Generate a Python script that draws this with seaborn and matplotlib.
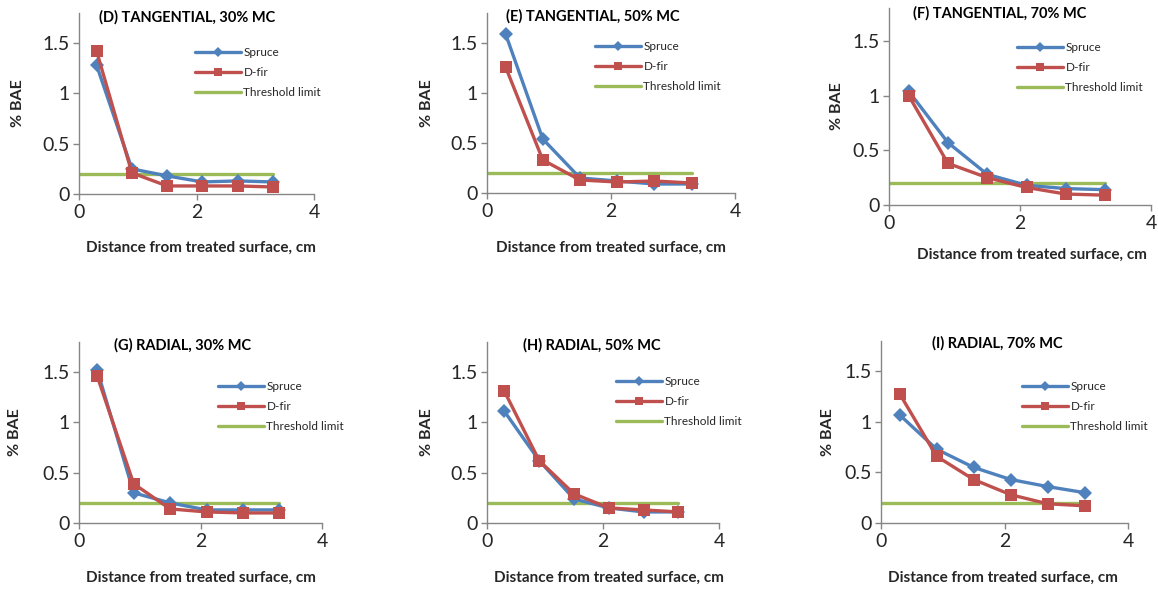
import matplotlib
matplotlib.use('Agg')
import matplotlib.pyplot as plt
import seaborn as sns
import pandas as pd

# data
distance = [0.3, 0.9, 1.5, 2.1, 2.7, 3.3]
threshold_x = [0, 3.3]
threshold_y = [0.2, 0.2]

titles = ['(D) TANGENTIAL, 30% MC', '(E) TANGENTIAL, 50% MC', '(F) TANGENTIAL, 70% MC',
          '(G) RADIAL, 30% MC', '(H) RADIAL, 50% MC', '(I) RADIAL, 70% MC']

spruce_d = [1.28, 0.25, 0.18, 0.12, 0.13, 0.12]
dfir_d = [1.42, 0.21, 0.08, 0.08, 0.08, 0.07]
spruce_e = [1.59, 0.54, 0.15, 0.12, 0.09, 0.09]
dfir_e = [1.26, 0.33, 0.13, 0.11, 0.12, 0.10]
spruce_f = [1.04, 0.57, 0.28, 0.18, 0.15, 0.14]
dfir_f = [1.00, 0.38, 0.25, 0.16, 0.10, 0.09]
spruce_g = [1.52, 0.30, 0.20, 0.13, 0.13, 0.13]
dfir_g = [1.46, 0.39, 0.14, 0.11, 0.10, 0.10]
spruce_h = [1.11, 0.62, 0.24, 0.15, 0.11, 0.11]
dfir_h = [1.31, 0.62, 0.29, 0.15, 0.13, 0.11]
spruce_i = [1.07, 0.73, 0.55, 0.43, 0.36, 0.30]
dfir_i = [1.28, 0.66, 0.43, 0.28, 0.19, 0.17]

spruce_all = [spruce_d, spruce_e, spruce_f, spruce_g, spruce_h, spruce_i]
dfir_all = [dfir_d, dfir_e, dfir_f, dfir_g, dfir_h, dfir_i]

# layout in pixels (Excel panels are not on a clean grid)
W, H = 1158, 590
axes_px = [(79, 314, 13, 194), (487, 735, 13, 193), (889, 1151, 8, 205),
           (79, 322, 342, 523), (487, 719, 342, 523), (881, 1128, 341, 523)]
title_px = [(187, 17), (593, 16), (1000, 13), (183, 345), (592, 345), (997, 343)]
xlab_px = [(201, 248), (611, 248), (1032, 255), (201, 578), (609, 578), (1003, 578)]
ylab_px = [18, 427, 837, 15, 427, 828]
legend_px = [(195, 54), (595, 48), (1017, 49), (218, 388), (616, 383), (1022, 388)]

blue = '#4F81BD'
red = '#C0504D'
green = '#9BBB59'
axis_gray = '#868686'

sns.set_style('white')
plt.rcParams['font.family'] = ['Lato', 'DejaVu Sans']

fig = plt.figure(figsize=(W / 100, H / 100), dpi=100)

for i in range(6):
    l, r, t, b = axes_px[i]
    ax = fig.add_axes([l / W, 1 - b / H, (r - l) / W, (b - t) / H])

    sns.lineplot(x=threshold_x, y=threshold_y, color=green, linewidth=2.4,
                 label='Threshold limit', ax=ax, zorder=2)
    sns.lineplot(x=distance, y=spruce_all[i], color=blue, linewidth=2.4,
                 marker='D', markersize=7, markeredgewidth=0,
                 label='Spruce', ax=ax, zorder=3)
    sns.lineplot(x=distance, y=dfir_all[i], color=red, linewidth=2.4,
                 marker='s', markersize=8, markeredgewidth=0,
                 label='D-fir', ax=ax, zorder=4)

    ax.set_xlim(0, 4)
    ax.set_ylim(0, 1.8)
    ax.set_xticks([0, 2, 4])
    ax.set_xticklabels(['0', '2', '4'])
    ax.set_yticks([0, 0.5, 1, 1.5])
    ax.set_yticklabels(['0', '0.5', '1', '1.5'])
    ax.tick_params(axis='both', labelsize=14, colors=axis_gray,
                   direction='out', length=4, width=1, left=True, bottom=True, pad=3)
    for side in ['top', 'right']:
        ax.spines[side].set_visible(False)
    for side in ['left', 'bottom']:
        ax.spines[side].set_color(axis_gray)
        ax.spines[side].set_linewidth(1)
    for lab in ax.get_xticklabels() + ax.get_yticklabels():
        lab.set_color('#262626')

    # title sits inside the plot area, as in Excel
    tx, ty = title_px[i]
    fig.text(tx / W, 1 - ty / H, titles[i], ha='center', va='center',
             fontsize=10.5, fontweight='bold', color='black')

    ax.set_xlabel('Distance from treated surface, cm', fontsize=11, fontweight='bold')
    ax.set_ylabel('% BAE', fontsize=11.5, fontweight='bold')
    xx, xy = xlab_px[i]
    ax.xaxis.set_label_coords((xx - l) / (r - l), (b - xy) / (b - t))
    ax.xaxis.label.set_va('center')
    ax.yaxis.set_label_coords((ylab_px[i] - l) / (r - l), 0.5)
    ax.yaxis.label.set_va('center')

    # legend order: Spruce, D-fir, Threshold limit
    handles, labels = ax.get_legend_handles_labels()
    order = [labels.index('Spruce'), labels.index('D-fir'), labels.index('Threshold limit')]
    lx, ly = legend_px[i]
    leg = ax.legend([handles[k] for k in order], [labels[k] for k in order],
                    loc='upper left', bbox_to_anchor=(lx / W, 1 - (ly - 7) / H),
                    bbox_transform=fig.transFigure, frameon=False, fontsize=8.5,
                    handlelength=3.9, handletextpad=0.2, labelspacing=0.75,
                    borderpad=0, borderaxespad=0, markerscale=0.7)

fig.savefig('out.png', dpi=100)
